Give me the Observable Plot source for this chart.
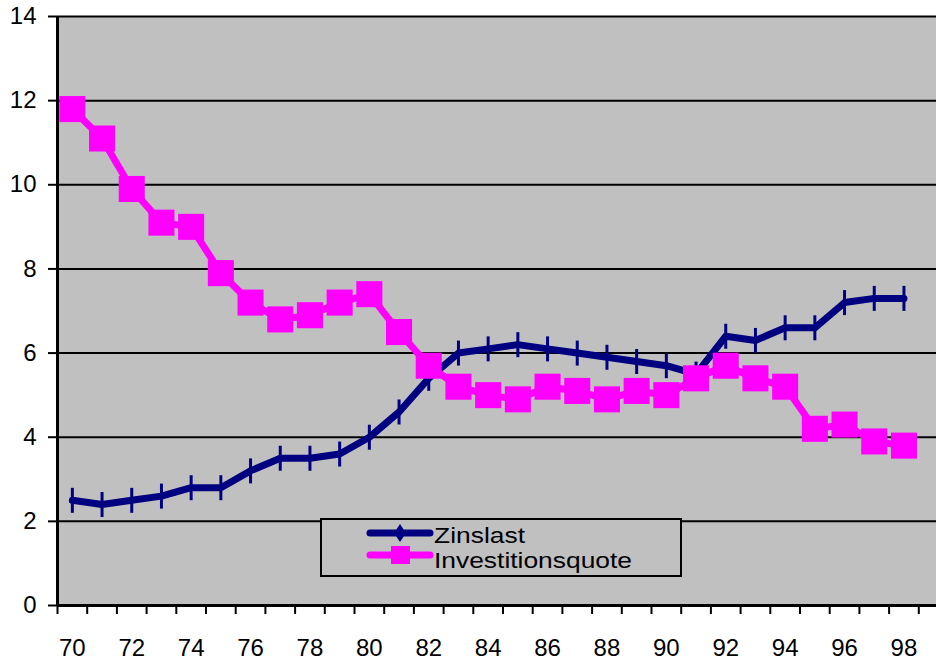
<!DOCTYPE html>
<html>
<head>
<meta charset="utf-8">
<script src="https://cdn.jsdelivr.net/npm/d3@7"></script>
<script src="https://cdn.jsdelivr.net/npm/@observablehq/plot@0.6"></script>
<style>
  html, body { margin: 0; padding: 0; background: #fff; overflow: hidden; }
  #chart { position: relative; width: 936px; height: 663px; overflow: hidden; }
  #chart > svg { max-width: none !important; }
  #legend { position: absolute; left: 320px; top: 518px; width: 358px; height: 55px;
            border: 2px solid #000; background: #c0c0c0; }
</style>
</head>
<body>
<div id="chart"><div id="legend"></div></div>
<script>
// Jahre 1970–1998 (zweistellig beschriftet)
const years = [70,71,72,73,74,75,76,77,78,79,80,81,82,83,84,85,86,87,88,89,90,91,92,93,94,95,96,97,98];

// Zinslast in %
const zinslast = [2.5,2.4,2.5,2.6,2.8,2.8,3.2,3.5,3.5,3.6,4.0,4.6,5.4,6.0,6.1,6.2,6.1,6.0,5.9,5.8,5.7,5.5,6.4,6.3,6.6,6.6,7.2,7.3,7.3];

// Investitionsquote in %
const investitionsquote = [11.8,11.1,9.9,9.1,9.0,7.9,7.2,6.8,6.9,7.2,7.4,6.5,5.7,5.2,5.0,4.9,5.2,5.1,4.9,5.1,5.0,5.4,5.7,5.4,5.2,4.2,4.3,3.9,3.8];

const yTicks = [0,2,4,6,8,10,12,14];
const xLabels = [70,72,74,76,78,80,82,84,86,88,90,92,94,96,98];

const seriesNames = ["Zinslast", "Investitionsquote"];
const seriesColors = ["#000080", "#ff00ff"];

const rows = years.map((year, i) => ({year, zins: zinslast[i], inv: investitionsquote[i]}));

// category boundaries for the small tick marks on the x axis
const boundaries = d3.range(years[0] - 0.5, years[years.length - 1] + 1.5, 1);

// vertical bar marker for the Zinslast series
const vbar = { draw(ctx) { ctx.moveTo(0, -12.5); ctx.lineTo(0, 12.5); } };

const font = "'Liberation Sans', Arial, sans-serif";

const plot = Plot.plot({
  width: 948,
  height: 663,
  marginLeft: 57,
  marginRight: 0,
  marginTop: 16,
  marginBottom: 58,
  style: { fontFamily: font, fontSize: "24px", color: "#000", background: "transparent", overflow: "visible", maxWidth: "none" },
  x: { domain: [years[0] - 0.5, years[years.length - 1] + 1.5] },
  y: { domain: [0, 14] },
  marks: [
    Plot.frame({ fill: "#c0c0c0", stroke: null }),
    Plot.ruleY(yTicks, { stroke: "#000", strokeWidth: 2 }),
    Plot.axisY({ ticks: yTicks, tickSize: 9, tickPadding: 12, strokeWidth: 2, fontSize: 24, label: null, tickFormat: d => String(d) }),
    Plot.axisX({ ticks: boundaries, tickSize: 9, strokeWidth: 2, label: null, tickFormat: () => "" }),
    Plot.axisX({ ticks: xLabels, tickSize: 0, tickPadding: 33, fontSize: 24, label: null, tickFormat: d => String(d) }),
    Plot.ruleX([years[0] - 0.5], { stroke: "#000", strokeWidth: 3 }),
    Plot.ruleY([0], { stroke: "#000", strokeWidth: 3 }),
    Plot.line(rows, { x: "year", y: "zins", stroke: seriesColors[0], strokeWidth: 7, strokeLinejoin: "round", strokeLinecap: "round" }),
    Plot.dot(rows, { x: "year", y: "zins", symbol: vbar, fill: "none", stroke: seriesColors[0], strokeWidth: 3, r: 5 }),
    Plot.line(rows, { x: "year", y: "inv", stroke: seriesColors[1], strokeWidth: 7, strokeLinejoin: "round" }),
    Plot.dot(rows, { x: "year", y: "inv", symbol: "square", fill: seriesColors[1], stroke: "none", r: 14.7 })
  ]
});

const chart = document.getElementById("chart");
chart.insertBefore(plot, chart.firstChild);
plot.style.position = "absolute";
plot.style.left = "0px";
plot.style.top = "0px";
plot.style.maxWidth = "none";
plot.style.width = "948px";
plot.style.height = "663px";

// legend drawn inside its bordered box; the two rows sit tightly stacked
const lg = d3.select("#legend").append("svg")
  .attr("width", 358).attr("height", 55)
  .style("position", "absolute").style("left", "0px").style("top", "0px");

const legendRows = [
  { cy: 13, baseline: 23, width: 91 },
  { cy: 35, baseline: 48, width: 198 }
];

seriesNames.forEach((name, i) => {
  const { cy, baseline, width } = legendRows[i];
  const g = lg.append("g");
  g.append("line").attr("x1", 48).attr("x2", 108).attr("y1", cy).attr("y2", cy)
    .attr("stroke", seriesColors[i]).attr("stroke-width", 7).attr("stroke-linecap", "round");
  if (i === 0) {
    g.append("path").attr("d", `M78,${cy - 9}L84,${cy}L78,${cy + 9}L72,${cy}Z`).attr("fill", seriesColors[i]);
  } else {
    g.append("rect").attr("x", 69).attr("y", cy - 9).attr("width", 19).attr("height", 18).attr("fill", seriesColors[i]);
  }
  g.append("text").attr("x", 112).attr("y", baseline)
    .attr("font-family", font).attr("font-size", 22)
    .attr("textLength", width).attr("lengthAdjust", "spacingAndGlyphs")
    .attr("fill", "#000").text(name);
});
</script>
</body>
</html>
